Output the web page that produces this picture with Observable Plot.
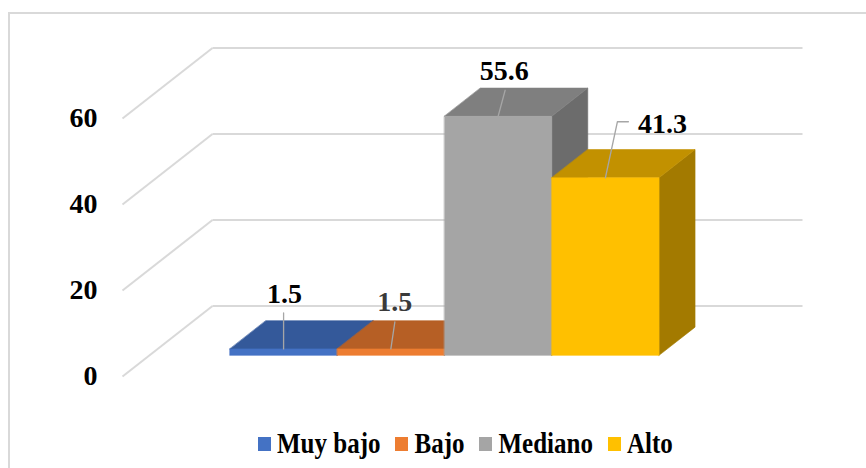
<!DOCTYPE html>
<html>
<head>
<meta charset="utf-8">
<script src="https://cdn.jsdelivr.net/npm/d3@7"></script>
<script src="https://cdn.jsdelivr.net/npm/@observablehq/plot@0.6"></script>
<style>
  html, body { margin: 0; padding: 0; background: #fff; width: 866px; height: 468px; overflow: hidden; }
  #wrap { position: relative; width: 866px; height: 468px; }
  #frame { position: absolute; left: 8px; top: 12px; width: 900px; height: 500px;
           border-left: 2px solid #d9d9d9; border-top: 2px solid #d9d9d9; pointer-events: none; }
  #legend { position: absolute; left: 258px; top: 424px; height: 40px; display: flex; align-items: center;
            font-family: "Times New Roman", "Liberation Serif", serif; font-weight: bold; font-size: 25px; color: #000; }
  #legend .item { display: flex; align-items: center; margin-right: 15px; }
  #legend .sw { width: 13px; height: 14px; margin-right: 6px; }
  #legend .lab { display: inline-block; transform: scaleY(1.15); }
</style>
</head>
<body>
<div id="wrap">
  <div id="chart"></div>
  <div id="legend"></div>
  <div id="frame"></div>
</div>
<script>
// ---- data ----
const categories = ["Muy bajo", "Bajo", "Mediano", "Alto"];
const values = [1.5, 1.5, 55.6, 41.3];
const valueLabels = ["1.5", "1.5", "55.6", "41.3"];
const ticks = [0, 20, 40, 60];
const tickLabels = ["0", "20", "40", "60"];

// ---- styles ----
const frontColors = ["#4472C4", "#ED7D31", "#A5A5A5", "#FFC000"];
const topColors   = ["#34599A", "#B65F25", "#7F7F7F", "#C29100"];
const sideColors  = ["#2C4C84", "#9C5120", "#6C6C6C", "#A37A00"];
const labelColors = ["#000000", "#3a3a3a", "#000000", "#000000"];
// manual label placement (pixel offsets from bar front-top centre)
const labelOffsets = [[1, -55], [4, -46.5], [6, -45], [57, -53.5]];
const leaderPaths = [
  [[0, 0], [0, -36]],
  [[0, 0], [4, -27]],
  [[0, 0], [7, -26]],
  [[0, 0], [12, -56], [23, -56]]
];

// ---- layout ----
const W = 866, H = 424;
const mL = 122, mR = 154, mT = 118, mB = 48;
const xDomain = [-0.75, categories.length + 0.75];
const yDomain = [0, 60];
const pxX = (W - mL - mR) / (xDomain[1] - xDomain[0]);
const pxY = (H - mT - mB) / (yDomain[1] - yDomain[0]);
// oblique depth vector (full depth) in pixels -> data units
const DX = 90 / pxX, DY = 70.5 / pxY;
const z0 = 0.3, z1 = 0.7;
const P = (x, y, z) => ({X: x + z * DX, Y: y + z * DY});

// grid lines
const backGrid = ticks.map(t => ({x1: xDomain[0] + DX, x2: xDomain[1] + DX, y: t + DY}));
const sideGrid = ticks.map(t => ({x1: xDomain[0], y1: t, x2: xDomain[0] + DX, y2: t + DY}));

// faces
const faces = [];
values.forEach((v, i) => {
  const x0 = i, x1 = i + 1;
  const add = (id, color, pts) => pts.forEach(p => faces.push({id, color, ...P(...p)}));
  add(`s${i}`, sideColors[i], [[x1, 0, z0], [x1, 0, z1], [x1, v, z1], [x1, v, z0]]);
  add(`t${i}`, topColors[i], [[x0, v, z0], [x1, v, z0], [x1, v, z1], [x0, v, z1]]);
  add(`f${i}`, frontColors[i], [[x0, 0, z0], [x1, 0, z0], [x1, v, z0], [x0, v, z0]]);
});

// anchors, labels, leaders
const anchors = values.map((v, i) => P(i + 0.5, v, z0));
const labels = anchors.map((a, i) => ({
  X: a.X + labelOffsets[i][0] / pxX, Y: a.Y - labelOffsets[i][1] / pxY,
  text: valueLabels[i], color: labelColors[i]
}));
const leaders = [];
anchors.forEach((a, i) => leaderPaths[i].forEach(p =>
  leaders.push({id: i, X: a.X + p[0] / pxX, Y: a.Y - p[1] / pxY})));

const font = "'Times New Roman', 'Liberation Serif', serif";
const plot = Plot.plot({
  width: W, height: H,
  marginLeft: mL, marginRight: mR, marginTop: mT, marginBottom: mB,
  x: {domain: xDomain, axis: null},
  y: {domain: yDomain, axis: null},
  style: {fontFamily: font, background: "transparent", overflow: "visible"},
  marks: [
    Plot.link(sideGrid, {x1: "x1", y1: "y1", x2: "x2", y2: "y2", stroke: "#d9d9d9", strokeWidth: 2}),
    Plot.link(backGrid, {x1: "x1", x2: "x2", y1: "y", y2: "y", stroke: "#d9d9d9", strokeWidth: 2}),
    Plot.line(faces, {x: "X", y: "Y", z: "id", fill: "color", stroke: "color", strokeWidth: 0.6, curve: "linear-closed"}),
    Plot.line(leaders, {x: "X", y: "Y", z: "id", stroke: "#A6A6A6", strokeWidth: 1.3}),
    Plot.text(labels, {x: "X", y: "Y", text: "text", fill: "color", fontSize: 28, fontWeight: "bold", lineAnchor: "middle"}),
    Plot.text(ticks, {x: xDomain[0], y: d => d, text: (d, i) => tickLabels[i], dx: -25, textAnchor: "end",
      fontSize: 28, fontWeight: "bold", fill: "#000", lineAnchor: "middle"})
  ]
});
document.getElementById("chart").appendChild(plot);

// legend
const leg = document.getElementById("legend");
categories.forEach((c, i) => {
  const it = document.createElement("div"); it.className = "item";
  const sw = document.createElement("div"); sw.className = "sw"; sw.style.background = frontColors[i];
  const lb = document.createElement("span"); lb.className = "lab"; lb.textContent = c;
  it.appendChild(sw); it.appendChild(lb); leg.appendChild(it);
});
</script>
</body>
</html>
